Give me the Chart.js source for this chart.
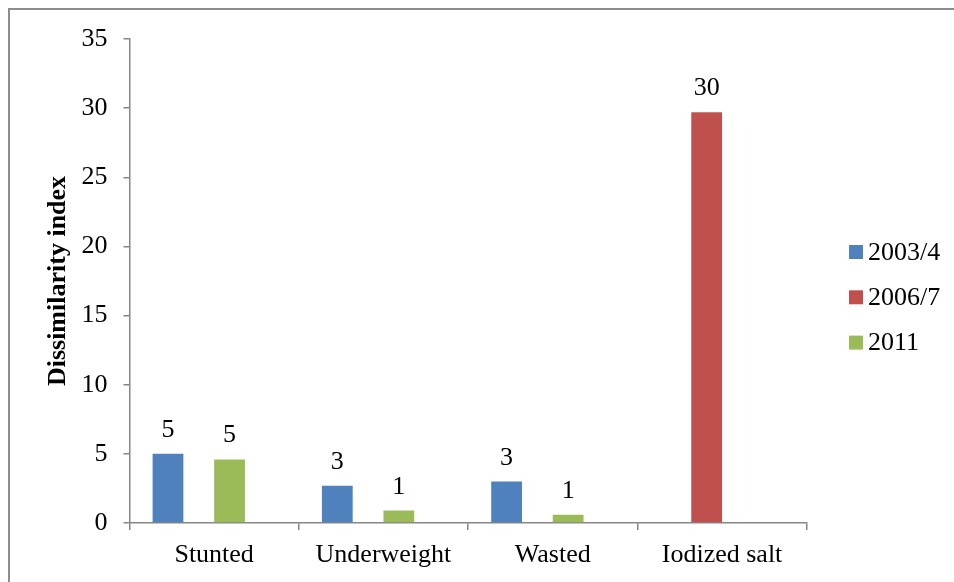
<!DOCTYPE html>
<html>
<head>
<meta charset="utf-8">
<script src="https://cdn.jsdelivr.net/npm/chart.js@4/dist/chart.umd.min.js"></script>
<style>
  html, body { margin: 0; padding: 0; background: #ffffff; }
  #wrap { width: 954px; height: 582px; position: relative; }
</style>
</head>
<body>
<div id="wrap"><canvas id="chart"></canvas></div>
<script>
// Dissimilarity index by indicator and survey round
const categories = ['Stunted', 'Underweight', 'Wasted', 'Iodized salt'];
const seriesNames = ['2003/4', '2006/7', '2011'];
const values2003 = [5.0, 2.7, 3.0, null];
const values2006 = [null, null, null, 29.7];
const values2011 = [4.6, 0.9, 0.6, null];
// empty fourth slot in each group (keeps the bar spacing of the original layout)
const valuesBlank = [null, null, null, null];
const yTicks = [0, 5, 10, 15, 20, 25, 30, 35];

const colors = ['#4F81BD', '#C0504D', '#9BBB59'];
const axisGray = '#868686';
const serif = "'Liberation Serif', 'Times New Roman', serif";

// thin frame along the top and left edges
const framePlugin = {
  id: 'frame',
  beforeDraw(chart) {
    const ctx = chart.ctx;
    ctx.save();
    ctx.strokeStyle = '#8c8c8c';
    ctx.lineWidth = 2;
    ctx.beginPath();
    ctx.moveTo(9, 582);
    ctx.lineTo(9, 9);
    ctx.lineTo(954, 9);
    ctx.stroke();
    ctx.restore();
  }
};

// rounded values above each bar
const valueLabels = {
  id: 'valueLabels',
  afterDatasetsDraw(chart) {
    const ctx = chart.ctx;
    ctx.save();
    ctx.font = '26px ' + serif;
    ctx.fillStyle = '#000';
    ctx.textAlign = 'center';
    ctx.textBaseline = 'alphabetic';
    chart.data.datasets.forEach((ds, i) => {
      if (ds.isSpacer) return;
      const meta = chart.getDatasetMeta(i);
      meta.data.forEach((bar, j) => {
        const v = ds.data[j];
        if (v === null || v === undefined) return;
        ctx.fillText(String(Math.round(v)), bar.x, bar.y - 17);
      });
    });
    ctx.restore();
  }
};

// legend on the right, drawn from the dataset labels and colours
const sideLegend = {
  id: 'sideLegend',
  afterDraw(chart) {
    const ctx = chart.ctx;
    ctx.save();
    ctx.font = '26px ' + serif;
    ctx.textAlign = 'left';
    ctx.textBaseline = 'middle';
    const items = chart.data.datasets.filter(d => !d.isSpacer);
    items.forEach((ds, k) => {
      const cy = 252 + k * 45.3;
      ctx.fillStyle = ds.backgroundColor;
      ctx.fillRect(849, cy - 7, 14, 14);
      ctx.fillStyle = '#000';
      ctx.fillText(ds.label, 868, cy + 1);
    });
    ctx.restore();
  }
};

const datasets = [
  { label: seriesNames[0], data: values2003, backgroundColor: colors[0] },
  { label: seriesNames[1], data: values2006, backgroundColor: colors[1] },
  { label: seriesNames[2], data: values2011, backgroundColor: colors[2] },
  { label: '', data: valuesBlank, backgroundColor: 'rgba(0,0,0,0)', isSpacer: true }
];

new Chart(document.getElementById('chart'), {
  type: 'bar',
  data: { labels: categories, datasets },
  options: {
    responsive: true,
    maintainAspectRatio: false,
    animation: false,
    devicePixelRatio: 1,
    layout: { padding: { left: 0, top: 39, right: 147.3, bottom: 0 } },
    datasets: { bar: { categoryPercentage: 0.727, barPercentage: 1.0 } },
    plugins: {
      legend: { display: false },
      tooltip: { enabled: false }
    },
    scales: {
      x: {
        grid: { display: true, drawOnChartArea: false, drawTicks: true, tickLength: 7, color: axisGray, lineWidth: 1.5, offset: true },
        border: { display: true, color: axisGray, width: 1.5 },
        ticks: { color: '#000', font: { family: serif, size: 26 }, padding: 10, maxRotation: 0 },
        afterFit(scale) { scale.height = 59; }
      },
      y: {
        min: 0,
        max: 35,
        afterBuildTicks(scale) { scale.ticks = yTicks.map(v => ({ value: v })); },
        grid: { display: true, drawOnChartArea: false, drawTicks: true, tickLength: 6, color: axisGray, lineWidth: 1.5 },
        border: { display: true, color: axisGray, width: 1.5 },
        ticks: { color: '#000', font: { family: serif, size: 26 }, padding: 16 },
        title: {
          display: true,
          text: 'Dissimilarity index',
          color: '#000',
          font: { family: serif, size: 26, weight: 'bold' },
          padding: { top: 42.5, bottom: 0 }
        },
        afterFit(scale) { scale.width = 129.5; }
      }
    }
  },
  plugins: [framePlugin, valueLabels, sideLegend]
});
</script>
</body>
</html>
